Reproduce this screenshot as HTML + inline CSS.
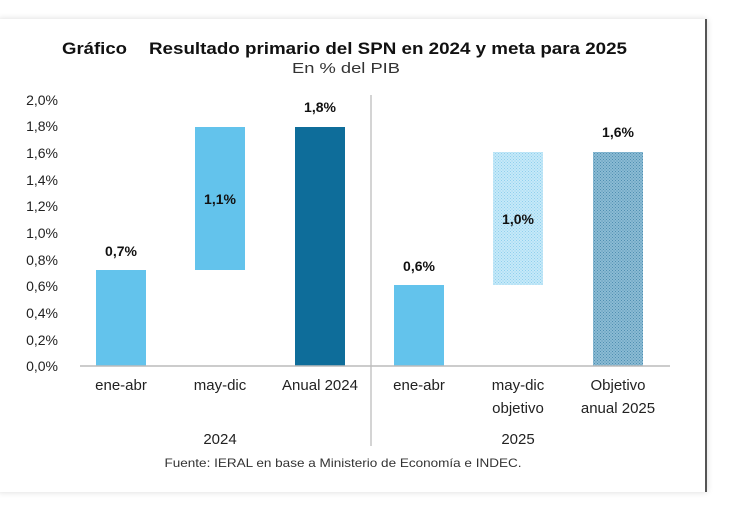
<!DOCTYPE html><html><head><style>body{margin:0;background:#fff;width:730px;height:513px;overflow:hidden;font-family:"Liberation Sans",sans-serif}
.card{position:absolute;left:-2px;top:19px;width:707px;height:473px;background:#fff;box-shadow:0 0 6px rgba(0,0,0,.15);border-right:2px solid #555}</style></head><body>
<div class="card"></div>
<svg width="730" height="513" style="position:absolute;left:0;top:0" font-family="Liberation Sans, sans-serif">
<defs>
<pattern id="p1" width="3" height="3" patternUnits="userSpaceOnUse"><rect width="3" height="3" fill="#c6e9f8"/><rect width="1" height="1" fill="#8fd0ee"/><rect x="1.5" y="1.5" width="1" height="1" fill="#8fd0ee"/></pattern>
<pattern id="p2" width="3" height="3" patternUnits="userSpaceOnUse"><rect width="3" height="3" fill="#8bbbd4"/><rect width="1" height="1" fill="#4f8fb1"/><rect x="1.5" y="1.5" width="1" height="1" fill="#4f8fb1"/></pattern>
</defs>
<text x="62" y="54" font-size="17" font-weight="bold" fill="#111" textLength="65" lengthAdjust="spacingAndGlyphs">Gráfico</text>
<text x="149" y="54" font-size="17" font-weight="bold" fill="#111" textLength="478" lengthAdjust="spacingAndGlyphs">Resultado primario del SPN en 2024 y meta para 2025</text>
<text x="346" y="73" font-size="15" fill="#333" text-anchor="middle" textLength="108" lengthAdjust="spacingAndGlyphs">En % del PIB</text>
<g font-size="14" fill="#222" text-anchor="end">
<text x="58" y="105">2,0%</text><text x="58" y="131">1,8%</text><text x="58" y="158">1,6%</text><text x="58" y="185">1,4%</text><text x="58" y="211">1,2%</text><text x="58" y="238">1,0%</text><text x="58" y="265">0,8%</text><text x="58" y="291">0,6%</text><text x="58" y="318">0,4%</text><text x="58" y="345">0,2%</text><text x="58" y="371">0,0%</text>
</g>
<line x1="371" y1="95" x2="371" y2="446" stroke="#aaa"/>
<rect x="96" y="270" width="50" height="96" fill="#63c3ec"/>
<rect x="195" y="127" width="50" height="143" fill="#63c3ec"/>
<rect x="295" y="127" width="50" height="239" fill="#0e6d9a"/>
<rect x="394" y="285" width="50" height="81" fill="#63c3ec"/>
<rect x="493" y="152" width="50" height="133" fill="url(#p1)"/>
<rect x="593" y="152" width="50" height="214" fill="url(#p2)"/>
<line x1="80" y1="366" x2="670" y2="366" stroke="#bbb" stroke-width="1.5"/>
<g font-size="14" font-weight="bold" fill="#111" text-anchor="middle">
<text x="121" y="256">0,7%</text><text x="220" y="204">1,1%</text><text x="320" y="112">1,8%</text>
<text x="419" y="271">0,6%</text><text x="518" y="224">1,0%</text><text x="618" y="137">1,6%</text>
</g>
<g font-size="15" fill="#222" text-anchor="middle">
<text x="121" y="390">ene-abr</text><text x="220" y="390">may-dic</text><text x="320" y="390">Anual 2024</text>
<text x="419" y="390">ene-abr</text><text x="518" y="390">may-dic</text><text x="518" y="413">objetivo</text>
<text x="618" y="390">Objetivo</text><text x="618" y="413">anual 2025</text>
<text x="220" y="444">2024</text><text x="518" y="444">2025</text>
</g>
<text x="343" y="467" font-size="12" fill="#333" text-anchor="middle" textLength="357" lengthAdjust="spacingAndGlyphs">Fuente: IERAL en base a Ministerio de Economía e INDEC.</text>
</svg>
</body></html>
